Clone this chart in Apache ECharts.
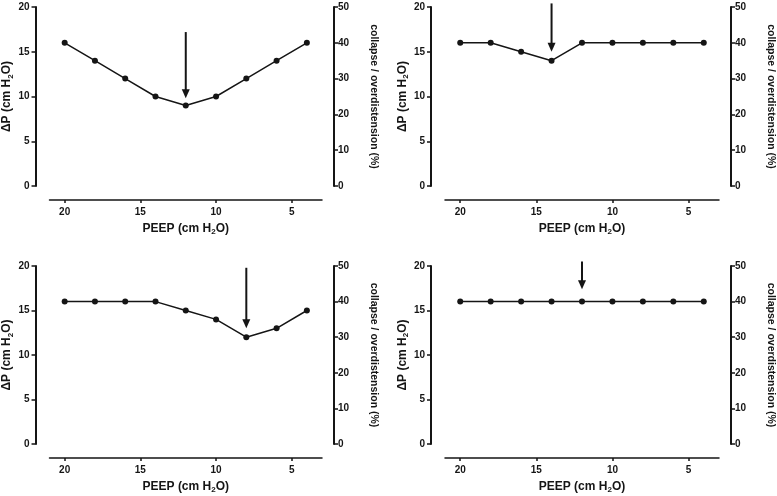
<!DOCTYPE html>
<html>
<head>
<meta charset="utf-8">
<script src="https://cdn.jsdelivr.net/npm/echarts@6/dist/echarts.min.js"></script>
<style>
html,body{margin:0;padding:0;background:#fff;}
#chart{width:777px;height:496px;}
</style>
</head>
<body>
<div id="chart"></div>
<script>
// ---- data ----
var peep = [20, 18, 16, 14, 12, 10, 8, 6, 4];
var dpA = [16, 14, 12, 10, 9, 10, 12, 14, 16];
var dpB = [16, 16, 15, 14, 16, 16, 16, 16, 16];
var dpC = [16, 16, 16, 16, 15, 14, 12, 13, 15];
var dpD = [16, 16, 16, 16, 16, 16, 16, 16, 16];
var arrowPeep = [12, 14, 8, 12];
var arrowFrom = [17.2, 20.4, 19.8, 20.5];
var arrowTo = [9.8, 15.0, 13.0, 17.4];
var xTicks = [20, 15, 10, 5];
var leftTitle = '{n|ΔP (cm H}{s|2}{n|O)}';
var rightTitle = 'collapse / overdistension (%)';
var xTitle = '{n|PEEP (cm H}{s|2}{n|O)}';

var series = [dpA, dpB, dpC, dpD];
var ink = '#151515';
var font = 'Liberation Sans, Arial, sans-serif';

var grids = [
  {left: 48, top: 7, width: 274, height: 179},
  {left: 445, top: 7, width: 274, height: 179},
  {left: 48, top: 266, width: 274, height: 178},
  {left: 445, top: 266, width: 274, height: 178}
];

var rich = {
  n: {fontSize: 12, fontWeight: 'bold', fontFamily: font, color: ink},
  s: {fontSize: 8, fontWeight: 'bold', fontFamily: font, color: ink, padding: [7, 0, 0, 0]}
};

var xAxes = [], yAxes = [], seriesList = [];
for (var i = 0; i < 4; i++) {
  xAxes.push({
    gridIndex: i, type: 'value', min: 3, max: 21, inverse: true,
    position: 'bottom', offset: 14,
    splitLine: {show: false},
    axisLine: {show: true, onZero: false, lineStyle: {color: ink, width: 1.5}},
    axisTick: {show: true, customValues: xTicks, length: 3, lineStyle: {color: ink, width: 1.5}},
    axisLabel: {show: true, customValues: xTicks, margin: 7, fontSize: 10, fontWeight: 'bold', fontFamily: font, color: ink},
    name: xTitle, nameLocation: 'middle', nameGap: 21,
    nameTextStyle: {rich: rich}
  });
  yAxes.push({
    gridIndex: i, type: 'value', min: 0, max: 20, interval: 5,
    position: 'left', offset: 14,
    splitLine: {show: false},
    axisLine: {show: true, onZero: false, lineStyle: {color: ink, width: 2}},
    axisTick: {show: true, length: 4, lineStyle: {color: ink, width: 1.5}},
    axisLabel: {margin: 6, fontSize: 10, fontWeight: 'bold', fontFamily: font, color: ink},
    name: leftTitle, nameLocation: 'middle', nameGap: 20, nameRotate: 90,
    nameTextStyle: {rich: rich}
  });
  yAxes.push({
    gridIndex: i, type: 'value', min: 0, max: 50, interval: 10,
    position: 'right', offset: 12,
    splitLine: {show: false},
    axisLine: {show: true, onZero: false, lineStyle: {color: ink, width: 2}},
    axisTick: {show: true, length: 4, lineStyle: {color: ink, width: 1.5}},
    axisLabel: {margin: 4, fontSize: 10, fontWeight: 'bold', fontFamily: font, color: ink},
    name: rightTitle, nameLocation: 'middle', nameGap: 34, nameRotate: -90,
    nameTextStyle: {fontSize: 10.5, fontWeight: 'bold', fontFamily: font, color: ink}
  });
  var pts = peep.map(function (p, k) { return [p, series[i][k]]; });
  seriesList.push({
    type: 'line', xAxisIndex: i, yAxisIndex: 2 * i,
    data: pts, symbol: 'circle', symbolSize: 6, silent: true,
    lineStyle: {color: ink, width: 1.5},
    itemStyle: {color: ink},
    animation: false
  });
  seriesList.push({
    type: 'custom', xAxisIndex: i, yAxisIndex: 2 * i, clip: false, silent: true,
    data: [[arrowPeep[i], arrowFrom[i], arrowTo[i]]],
    renderItem: function (params, api) {
      var a = api.coord([api.value(0), api.value(1)]);
      var b = api.coord([api.value(0), api.value(2)]);
      var hl = 9, hw = 4;
      return {
        type: 'group',
        children: [
          {type: 'line', shape: {x1: a[0], y1: a[1], x2: b[0], y2: b[1] - hl + 1},
           style: {stroke: ink, lineWidth: 2}},
          {type: 'polygon', shape: {points: [[b[0] - hw, b[1] - hl], [b[0] + hw, b[1] - hl], [b[0], b[1]]]},
           style: {fill: ink}}
        ]
      };
    },
    animation: false
  });
}

var chart = echarts.init(document.getElementById('chart'), null, {renderer: 'canvas'});
chart.setOption({
  backgroundColor: '#ffffff',
  animation: false,
  grid: grids,
  xAxis: xAxes,
  yAxis: yAxes,
  series: seriesList
});
</script>
</body>
</html>
